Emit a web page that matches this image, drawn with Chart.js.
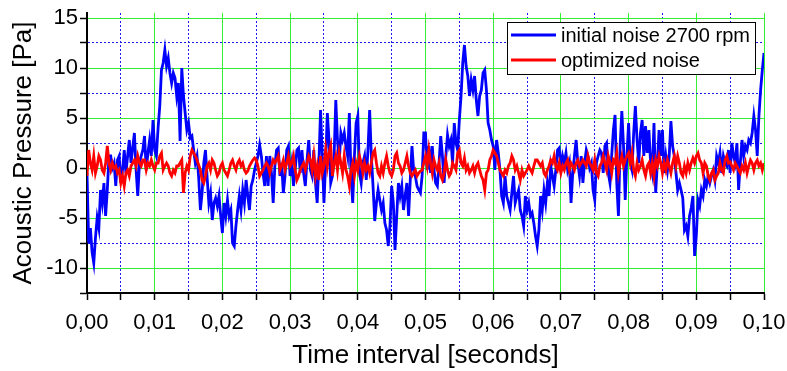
<!DOCTYPE html>
<html>
<head>
<meta charset="utf-8">
<script src="https://cdn.jsdelivr.net/npm/chart.js@4/dist/chart.umd.min.js"></script>
<style>
  html, body { margin: 0; padding: 0; background: #fff; }
</style>
</head>
<body>
<canvas id="noiseChart" width="787" height="371"></canvas>
<script>
// Samples, one every 0.25 ms (0 .. 0.1 s)
const sampleStep = 0.00025;

const initialNoise = [
  -0.5, -7.5, -6, -8.4, -9.5, -7, -5, -6, -2.2, -3.5,
  -1.5, -4.8, -2.2, 1.2, 1.2, 0, 0.5, -1.8, 0.8, 1.2,
  -1.5, -0.2, 1.8, -0.5, 1.2, 2.8, 0.5, 2, 3.5, -0.2,
  -2.8, 0.5, 1.2, 1.8, 3.2, -0.2, 1.5, 2.8, 1.2, 4.8,
  1.8, 1.2, 4, 6.2, 9.8, 10.5, 11.8, 10.2, 11, 9.5,
  8.5, 9.5, 9, 7.2, 8.5, 2.7, 10, 7.2, 5.5, 3.8,
  4.5, 3, 3.2, 1.8, 0.5, 1.2, -1, -4.2, -2.5, 0.5,
  1.8, -1, -3.5, -2.5, -5.2, -3.5, -3, -3.8, -2.8, -4.8,
  -6.5, -3.5, -4.8, -3.2, -4.8, -4.2, -7.5, -7.8, -5.8, -4.2,
  -2.8, -4.2, -2.2, -3.5, -1.2, -2.8, -4.2, -1.8, -1.2, -0.2,
  0.5, 1.2, 2.3, 1.2, -0.5, -1.8, 1.2, -1.8, 1.2, -0.5,
  -3.5, 0.2, 1.8, 2, -0.8, 0.5, -2.5, -0.8, 1.8, 2.2,
  -0.8, 0.5, -1.8, -0.2, 1.8, 2, -0.5, 1.8, -0.5, -1.8,
  0.8, 2.8, -0.2, -0.8, 1.8, -1.5, -3.5, 0.5, 5.8, 1.2,
  -3.5, 0.5, 5.5, 2.8, -1.5, -0.8, 1.2, 6.8, 2.8, 0.5,
  3.5, 2.8, 3.5, 2.2, 1.2, 5.5, -0.8, -3.5, 1.2, 4.5,
  5.2, -0.5, -1.5, 0.5, 1.2, -1.2, 1.8, 5.8, 1.2, -1.8,
  -5.3, -3.5, -2.2, -3.2, -4.2, -3.5, -5.5, -6.2, -7.8, -5.8,
  -1.8, -3.5, -8.2, -4.8, -1.5, -2.8, -1.8, -4.2, -2.8, -1.5,
  -4.8, -1.2, 2.2, -0.2, -0.8, -1.8, -2.2, -2.5, -0.8, 3.5,
  3.5, -0.2, 2.2, -0.5, 2.2, -0.2, -1.5, -1.8, 0.5, 3.2,
  1.2, -1.5, 1.2, 3.3, 2.2, 2.8, 0.5, 4.5, 2.5, 1.8,
  4.8, 7.2, 10.5, 12.3, 10.2, 9.2, 7.2, 8.8, 7.8, 9.2,
  6.8, 5.2, 7.2, 7.8, 9.5, 9.8, 7.8, 4.5, 3.8, 2.8,
  2.2, -0.2, 2.8, 1.5, -0.2, -2.8, -3.5, -0.8, -2.8, -3.5,
  -4.2, -2.5, -0.8, -3.5, -2.8, -2.2, -4.2, -4.8, -5.8, -2.8,
  -4.2, -3.5, -4.8, -4.5, -5.5, -6.8, -7.8, -6.2, -2.8, -4.2,
  -2.2, -3.5, -1.5, -2.8, 0.2, -0.8, -1.8, -0.2, 1.8, 2,
  0, 1.2, 0.5, 1.5, -0.2, 0.5, -3.5, -0.5, 1.2, 2.8,
  0.5, -0.8, 1.2, -1.5, 0.5, 1.8, 1.2, 0, 0.5, -2.2,
  -3.2, 0.5, 1.2, 1.8, 1.5, -0.5, 2.2, 2.5, -0.5, -1.5,
  1.2, 3.8, 5.3, -1.5, -4.8, 2.2, 5.7, 2.2, -3.2, 1.2,
  4.5, 0.5, -0.2, 3.5, 6.2, 2.8, 0.5, 3.5, 4.8, 1.2,
  4.2, 1.5, 3.8, 0.5, -0.5, 4.5, -2.5, 0.5, 3.8, 1.2,
  3.8, -0.5, 1.2, -0.2, 1.2, 4.7, 2.2, 1.2, -0.5, -2.2,
  -1.5, -2.2, -3, -6.2, -5.8, -6.8, -4.8, -4, -2.8, -8.8,
  -6.8, -3.2, -3.8, -2.2, -2.8, -1.2, -1.8, -0.8, -1.5, -0.8,
  -0.2, -1.2, 1.2, 0.5, 1.5, -0.5, 1.2, 0.5, 0.2, 1.8,
  -0.5, 2.5, 1.2, 0.5, 2.5, -2.2, 0.5, 2.8, 1.2, 2.2,
  1.8, 2.8, 2.5, 3.5, 5.2, 3.8, 1.2, 5.2, 7.8, 9.8,
  11.5
];

const optimizedNoise = [
  -0.8, 1.8, 0.5, -0.2, 1.2, -0.5, 0.2, 1.2, 0.8, -0.2,
  -0.5, 0.5, 2.2, 0.5, -0.2, 0.5, 0, 0.2, -0.5, -0.2,
  -1.5, -0.8, -1.8, -0.5, -0.2, -0.8, 0.2, 0.5, 0.8, 0.2,
  1.2, 0.5, 0.2, 0.8, 0.8, -0.2, 0.5, 0.2, 0.8, 0.2,
  -0.2, 0.5, 0.5, 1.2, 1.5, -0.2, 0.2, 0.5, 0.2, -0.5,
  -0.8, -0.2, -0.5, 0.2, 0.2, 0.5, 0.8, -2.5, -0.5, 0.2,
  -0.2, 1.2, 1.8, 1.5, 1.2, 0.8, 0.3, -0.2, -1.2, -1.5,
  -0.8, 0.2, 0.5, -0.2, 0.8, 0.5, -0.2, -0.8, -0.5, 0.2,
  0.5, -0.2, -0.5, -0.8, -0.2, 0.5, 0.8, 0.2, -0.2, 0.5,
  0.8, 0.2, 0.5, -0.2, -0.5, -0.3, 0.2, 0.5, 0.8, 1,
  0.8, 0.2, -0.8, -0.5, -0.2, 0.2, 0.5, 0.2, -0.5, 0.2,
  0.8, 0.5, 0.8, 1.2, -0.2, 0.2, 0.8, -0.2, 0.5, 1.2,
  0.2, 0.5, 1.2, -0.2, -1.2, -0.8, -0.2, 0.2, 0.5, -0.2,
  0.5, 1.2, 0.8, -0.2, 1.2, -0.8, 0.2, -1.2, 1.2, -0.5,
  0.2, 1.8, 0.2, 1.5, 2.2, -0.8, 0.5, 1.2, -0.2, 1.5,
  0.5, -0.5, 1.2, -0.2, -0.8, -1.8, -0.2, 0.5, -0.8, 0.5,
  -0.2, 1.2, 0.5, -0.5, 0.5, -0.2, 0.2, -0.5, 0.5, 1.5,
  1.8, 0.5, -0.5, -0.8, 0.2, -0.5, 0.5, 1.2, 0.2, -0.5,
  -0.8, -0.2, 1.2, 1.5, 0.5, 0.2, -0.5, -0.2, 0.5, 1.2,
  0.2, -0.5, -0.8, -0.5, -0.2, -0.8, -0.5, -0.3, -0.2, 0.5,
  1.2, 0.2, 1.8, 0.5, -0.5, 0.8, 0.2, -0.2, 0.5, -0.8,
  -1.2, -0.5, 0.8, -0.2, -0.8, -0.5, 0.5, 0.2, -0.2, 1.5,
  1.8, 0.5, 0.2, 1, -0.2, 0.2, -0.5, -0.2, 0.2, -0.5,
  0.2, 0.5, -0.2, -0.8, -1.2, -2.2, -0.5, -0.2, 0.8, 1.2,
  1.8, 1.5, 1.2, 0.5, -0.2, -0.5, -0.8, -0.2, -0.5, 0.2,
  0.5, 1.2, 0.8, -0.2, 0.2, -0.5, -1.2, -0.2, -0.8, -0.5,
  -0.2, 0.2, -0.2, -0.5, 0.2, 0.8, 0.8, 0.5, 0.2, 0.5,
  -0.5, -0.8, -0.2, 0.2, 0.8, 0.5, 1.2, 0.2, -0.2, 0.5,
  -0.5, 0.2, -0.2, 0.5, 0.8, -0.2, 0.5, 0.2, -0.2, 0.5,
  0.8, 0.2, 0.5, 0.8, 0.5, 0.2, 1.2, 0.5, 0.2, -0.2,
  0.8, -0.5, -0.8, 0.2, 0.5, 1.2, 0.5, -0.2, 1.2, 0.5,
  -0.5, 0.8, 0.5, 1.5, -0.5, 0.5, 1.2, 0.2, 0.8, 1.2,
  1.5, 0.5, 1.5, -0.2, -0.8, 0.5, -0.2, 0.2, 0.8, -0.2,
  -0.8, 0.2, 0.5, -0.5, 0.5, -0.8, 0.8, 0.2, 1.2, 0.5,
  -0.5, 0.5, -0.2, 0.8, 0.2, -0.5, 0.5, 1.2, 0.2, 1.2,
  0.5, -0.5, -0.8, 0.2, -0.5, 0.5, -0.2, 0.5, 1, 0.5,
  1.2, 1.5, 0.8, 0.5, -0.5, 0.5, 0.2, -0.8, -1.2, -0.5,
  -0.2, -1.2, -0.8, -0.5, 0.5, -0.2, -0.5, 0.8, 1.2, 0.5,
  0.6, 0.2, -0.2, 0.5, 0.2, -0.2, -0.5, 0.2, -0.2, 0.5,
  -0.5, 0.2, 0.8, 0.5, -0.2, 0.5, 0.8, 0.2, 0.5, -0.2,
  0.5
];

// Axis ticks (major ones get labels and green lines, minor ones blue dotted)
const xTicks = [0, 0.005, 0.01, 0.015, 0.02, 0.025, 0.03, 0.035, 0.04, 0.045, 0.05,
                0.055, 0.06, 0.065, 0.07, 0.075, 0.08, 0.085, 0.09, 0.095, 0.1];
const yTicks = [-12.5, -10, -7.5, -5, -2.5, 0, 2.5, 5, 7.5, 10, 12.5, 15];

const seriesNames = ['initial noise 2700 rpm', 'optimized noise'];
const seriesColors = ['#0000ff', '#ff0000'];

const FONT = "'Liberation Sans', Arial, sans-serif";
const GREEN = '#33ee33';
const BLUE_DOT = '#1a1aee';

const isMajorX = v => Math.round(v * 1000) % 10 === 0;
const isMajorY = v => Math.round(v * 10) % 50 === 0;

const times = initialNoise.map((_, i) => i * sampleStep);
const toPoints = arr => arr.map((v, i) => ({ x: times[i], y: v }));

// legend drawn inside the plot, top right
const boxLegend = {
  id: 'boxLegend',
  afterDraw(chart) {
    const { ctx, chartArea } = chart;
    const w = 248, h = 52;
    const left = chartArea.right - 9 - w;
    const top = chartArea.top + 9;
    ctx.save();
    ctx.fillStyle = '#fff';
    ctx.fillRect(left, top, w, h);
    ctx.strokeStyle = '#000';
    ctx.lineWidth = 1;
    ctx.strokeRect(left + 0.5, top + 0.5, w, h);
    ctx.font = '20px ' + FONT;
    ctx.textBaseline = 'middle';
    seriesNames.forEach((name, i) => {
      const y = top + 13 + i * 25;
      ctx.strokeStyle = seriesColors[i];
      ctx.lineWidth = 2.8;
      ctx.beginPath();
      ctx.moveTo(left + 4, y);
      ctx.lineTo(left + 49, y);
      ctx.stroke();
      ctx.fillStyle = '#000';
      ctx.fillText(name, left + 54, y + 1);
    });
    ctx.restore();
  }
};

const chart = new Chart(document.getElementById('noiseChart'), {
  type: 'line',
  data: {
    datasets: [
      {
        label: seriesNames[0],
        data: toPoints(initialNoise),
        borderColor: seriesColors[0],
        borderWidth: 2.8,
        pointRadius: 0,
        tension: 0,
        order: 2
      },
      {
        label: seriesNames[1],
        data: toPoints(optimizedNoise),
        borderColor: seriesColors[1],
        borderWidth: 2.8,
        pointRadius: 0,
        tension: 0,
        order: 1
      }
    ]
  },
  options: {
    responsive: false,
    animation: false,
    layout: { padding: { top: 13, right: 23, left: 0, bottom: 0 } },
    plugins: {
      legend: { display: false },
      tooltip: { enabled: false }
    },
    scales: {
      x: {
        type: 'linear',
        min: 0,
        max: 0.1,
        afterBuildTicks: s => { s.ticks = xTicks.map(v => ({ value: v })); },
        afterFit: s => { s.height = 78; s.paddingLeft = 0; s.paddingRight = 0; },
        grid: {
          color: c => (c.tick && isMajorX(c.tick.value)) ? GREEN : BLUE_DOT,
          lineWidth: 1,
          tickColor: '#000',
          tickLength: 7,
          tickWidth: 1.5
        },
        border: {
          color: '#000',
          width: 2,
          dash: c => (c.tick && !isMajorX(c.tick.value)) ? [2, 2] : []
        },
        ticks: {
          autoSkip: false,
          maxRotation: 0,
          color: '#000',
          padding: 10,
          font: { family: FONT, size: 22 },
          callback: v => isMajorX(v) ? v.toFixed(2).replace('.', ',') : ''
        },
        title: {
          display: true,
          text: 'Time interval [seconds]',
          color: '#000',
          font: { family: FONT, size: 26 },
          padding: { top: 2, bottom: 0 }
        }
      },
      y: {
        min: -12.5,
        max: 15.5,
        afterBuildTicks: s => { s.ticks = yTicks.map(v => ({ value: v })); },
        afterFit: s => { s.width = 87; s.paddingTop = 0; s.paddingBottom = 0; },
        grid: {
          color: c => {
            if (!c.tick || c.tick.value === -12.5) return 'rgba(0,0,0,0)';
            return isMajorY(c.tick.value) ? GREEN : BLUE_DOT;
          },
          lineWidth: 1,
          tickColor: '#000',
          tickLength: 7,
          tickWidth: 1.5
        },
        border: {
          color: '#000',
          width: 2,
          dash: c => (c.tick && !isMajorY(c.tick.value)) ? [2, 2] : []
        },
        ticks: {
          autoSkip: false,
          color: '#000',
          padding: 2,
          font: { family: FONT, size: 22 },
          callback: v => isMajorY(v) ? String(v) : ''
        },
        title: {
          display: true,
          text: 'Acoustic Pressure [Pa]',
          color: '#000',
          font: { family: FONT, size: 26 },
          padding: { top: 8, bottom: 0 }
        }
      }
    }
  },
  plugins: [boxLegend]
});
</script>
</body>
</html>
